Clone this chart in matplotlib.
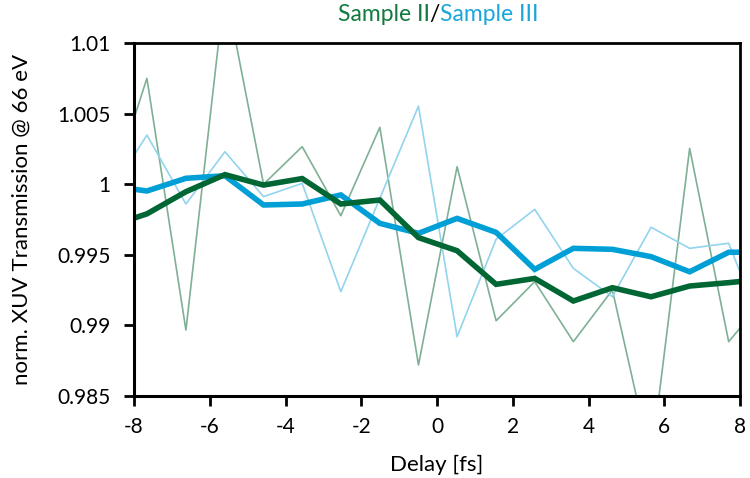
import matplotlib
matplotlib.use("Agg")
import matplotlib.pyplot as plt

plt.rcParams['font.family'] = ['Lato', 'DejaVu Sans']

# delay axis (fs); first and last points sit just outside the plotted window
delay = [-8.68, -7.66, -6.63, -5.60, -4.58, -3.56, -2.54, -1.51, -0.49,
         0.53, 1.56, 2.58, 3.60, 4.63, 5.65, 6.67, 7.70, 8.72]

# raw transmission traces
s2_raw = [0.9990, 1.0075, 0.98967, 1.0140, 1.0000, 1.00266, 0.99777, 1.00403, 0.9872,
          1.00124, 0.99033, 0.99310, 0.98885, 0.99251, 0.9804, 1.00254, 0.98885, 0.9921]
s3_raw = [0.9992, 1.00348, 0.9986, 1.0023, 0.99912, 1.00006, 0.99239, 0.9990, 1.00553,
          0.9892, 0.99610, 0.99822, 0.99404, 0.99203, 0.99695, 0.99546, 0.99582, 0.9889]

# smoothed traces
s2_smooth = [0.9970, 0.9979, 0.99947, 1.00068, 0.99994, 1.00040, 0.99860, 0.99888, 0.99622,
             0.99529, 0.99291, 0.99333, 0.99173, 0.99267, 0.99203, 0.99279, 0.99303, 0.9933]
s3_smooth = [0.9999, 0.99952, 1.00042, 1.00060, 0.99853, 0.99860, 0.99924, 0.99723, 0.99652,
             0.99758, 0.99659, 0.99397, 0.99546, 0.99539, 0.99487, 0.99380, 0.99518, 0.9952]

xticks = [-8, -6, -4, -2, 0, 2, 4, 6, 8]
yticks = [0.985, 0.99, 0.995, 1.0, 1.005, 1.01]
ytick_labels = ['0.985', '0.99', '0.995', '1', '1.005', '1.01']

green = '#006633'
green_thin = '#7fb096'
blue = '#009fd6'
blue_thin = '#92d4ee'

fig = plt.figure(figsize=(7.5, 4.78), dpi=100)
ax = fig.add_axes([0.1787, 0.1715, 0.808, 0.7385])

ax.plot(delay, s2_raw, color=green_thin, lw=1.2)
ax.plot(delay, s3_raw, color=blue_thin, lw=1.2)
ax.plot(delay, s3_smooth, color=blue, lw=4.0, solid_joinstyle='miter')
ax.plot(delay, s2_smooth, color=green, lw=4.0, solid_joinstyle='miter')

ax.set_xlim(-8, 8)
ax.set_ylim(0.985, 1.01)
ax.set_xticks(xticks)
ax.set_xticklabels([str(t) for t in xticks])
ax.set_yticks(yticks)
ax.set_yticklabels(ytick_labels)
ax.tick_params(direction='out', length=7, width=2, labelsize=15)
ax.tick_params(axis='y', pad=10)
ax.tick_params(axis='x', pad=8)
for side in ['left', 'bottom']:
    ax.spines[side].set_linewidth(2.2)
for side in ['top', 'right']:
    ax.spines[side].set_linewidth(2.0)

ax.set_xlabel('Delay [fs]', fontsize=16)
ax.set_ylabel('norm. XUV Transmission @ 66 eV', fontsize=16)
ax.xaxis.set_label_coords(0.5, -0.195)
ax.yaxis.set_label_coords(-0.185, 0.5)
ax.xaxis.label.set_va('center')
ax.yaxis.label.set_va('center')

# two-colour title, pieces placed one after another
renderer = fig.canvas.get_renderer()
parts = [('Sample II', '#137a3f'), ('/', 'black'), ('Sample III', '#1aa6db')]
texts = [fig.text(0, 0.969, s, color=c, fontsize=16.5, va='center') for s, c in parts]
widths = [t.get_window_extent(renderer).width for t in texts]
total = sum(widths)
x0 = 438 - total / 2
for t, w in zip(texts, widths):
    t.set_x(x0 / 750)
    x0 += w

fig.savefig('out.png', dpi=100)
